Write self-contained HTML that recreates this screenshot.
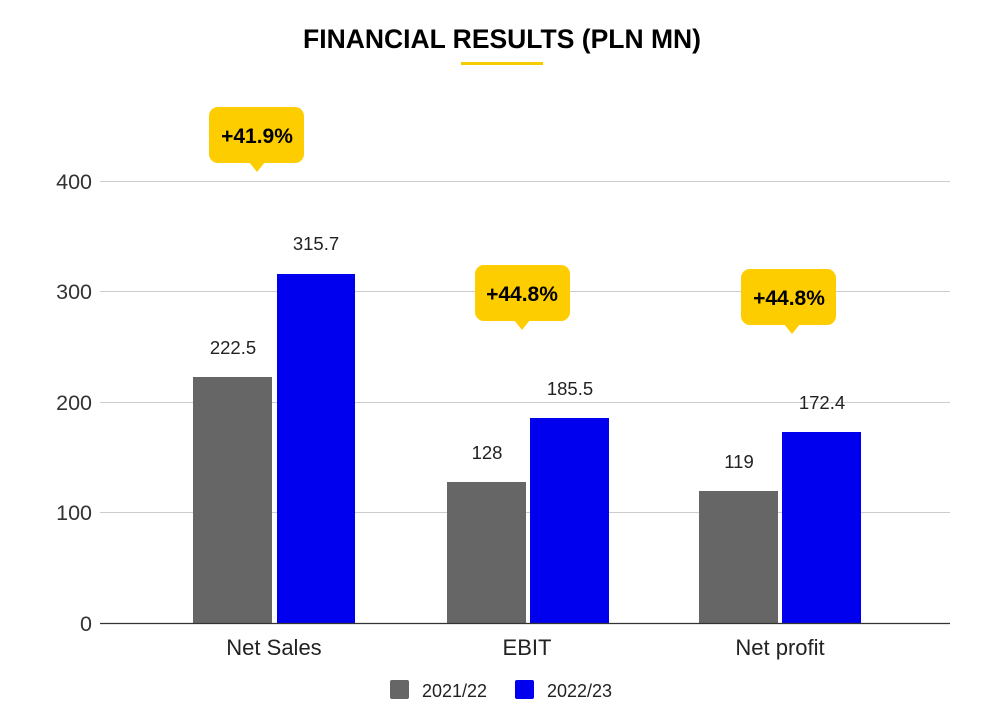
<!DOCTYPE html>
<html><head><meta charset="utf-8"><style>
body{margin:0;background:#fff}
svg{display:block;font-family:"Liberation Sans",Arial,sans-serif}
</style></head><body>
<svg width="997" height="723" viewBox="0 0 997 723">
<text x="502" y="48" text-anchor="middle" font-size="26.5" font-weight="bold" fill="#000">FINANCIAL RESULTS (PLN MN)</text>
<rect x="461" y="62" width="82" height="3" fill="#f5cc00"/>
<g stroke="#cccccc" stroke-width="1">
<line x1="100" x2="950" y1="181.5" y2="181.5"/>
<line x1="100" x2="950" y1="291.5" y2="291.5"/>
<line x1="100" x2="950" y1="402.5" y2="402.5"/>
<line x1="100" x2="950" y1="512.5" y2="512.5"/>
</g>
<g font-size="21.5" fill="#333" text-anchor="end">
<text x="92" y="189">400</text>
<text x="92" y="299">300</text>
<text x="92" y="410">200</text>
<text x="92" y="520">100</text>
<text x="92" y="631">0</text>
</g>
<rect x="193" y="377" width="79" height="246" fill="#666"/>
<rect x="277" y="274" width="78" height="349" fill="#0000ee"/>
<rect x="447" y="482" width="79" height="141" fill="#666"/>
<rect x="530" y="418" width="79" height="205" fill="#0000ee"/>
<rect x="699" y="491" width="79" height="132" fill="#666"/>
<rect x="782" y="432" width="79" height="191" fill="#0000ee"/>
<line x1="100" x2="950" y1="623.5" y2="623.5" stroke="#333" stroke-width="1.3"/>
<g font-size="18.5" fill="#222" text-anchor="middle">
<text x="233" y="354">222.5</text>
<text x="316" y="250">315.7</text>
<text x="487" y="459">128</text>
<text x="570" y="395">185.5</text>
<text x="739" y="468">119</text>
<text x="822" y="409">172.4</text>
</g>
<g font-size="22" fill="#222" text-anchor="middle">
<text x="274" y="655">Net Sales</text>
<text x="527" y="655">EBIT</text>
<text x="780" y="655">Net profit</text>
</g>
<g fill="#fdcd00">
<rect x="209" y="107" width="95" height="56" rx="9"/><path d="M249 162 L257 172 L265 162Z"/>
<rect x="475" y="265" width="95" height="56" rx="9"/><path d="M514 320 L522 330 L530 320Z"/>
<rect x="741" y="269" width="95" height="56" rx="9"/><path d="M784 324 L792 334 L800 324Z"/>
</g>
<g font-size="21" font-weight="bold" fill="#000" text-anchor="middle">
<text x="257" y="143">+41.9%</text>
<text x="522" y="301">+44.8%</text>
<text x="789" y="305">+44.8%</text>
</g>
<rect x="390" y="680" width="19" height="19" rx="2" fill="#666"/>
<text x="422" y="697" font-size="18" fill="#222">2021/22</text>
<rect x="515" y="680" width="19" height="19" rx="2" fill="#0000ee"/>
<text x="547" y="697" font-size="18" fill="#222">2022/23</text>
</svg>
</body></html>
